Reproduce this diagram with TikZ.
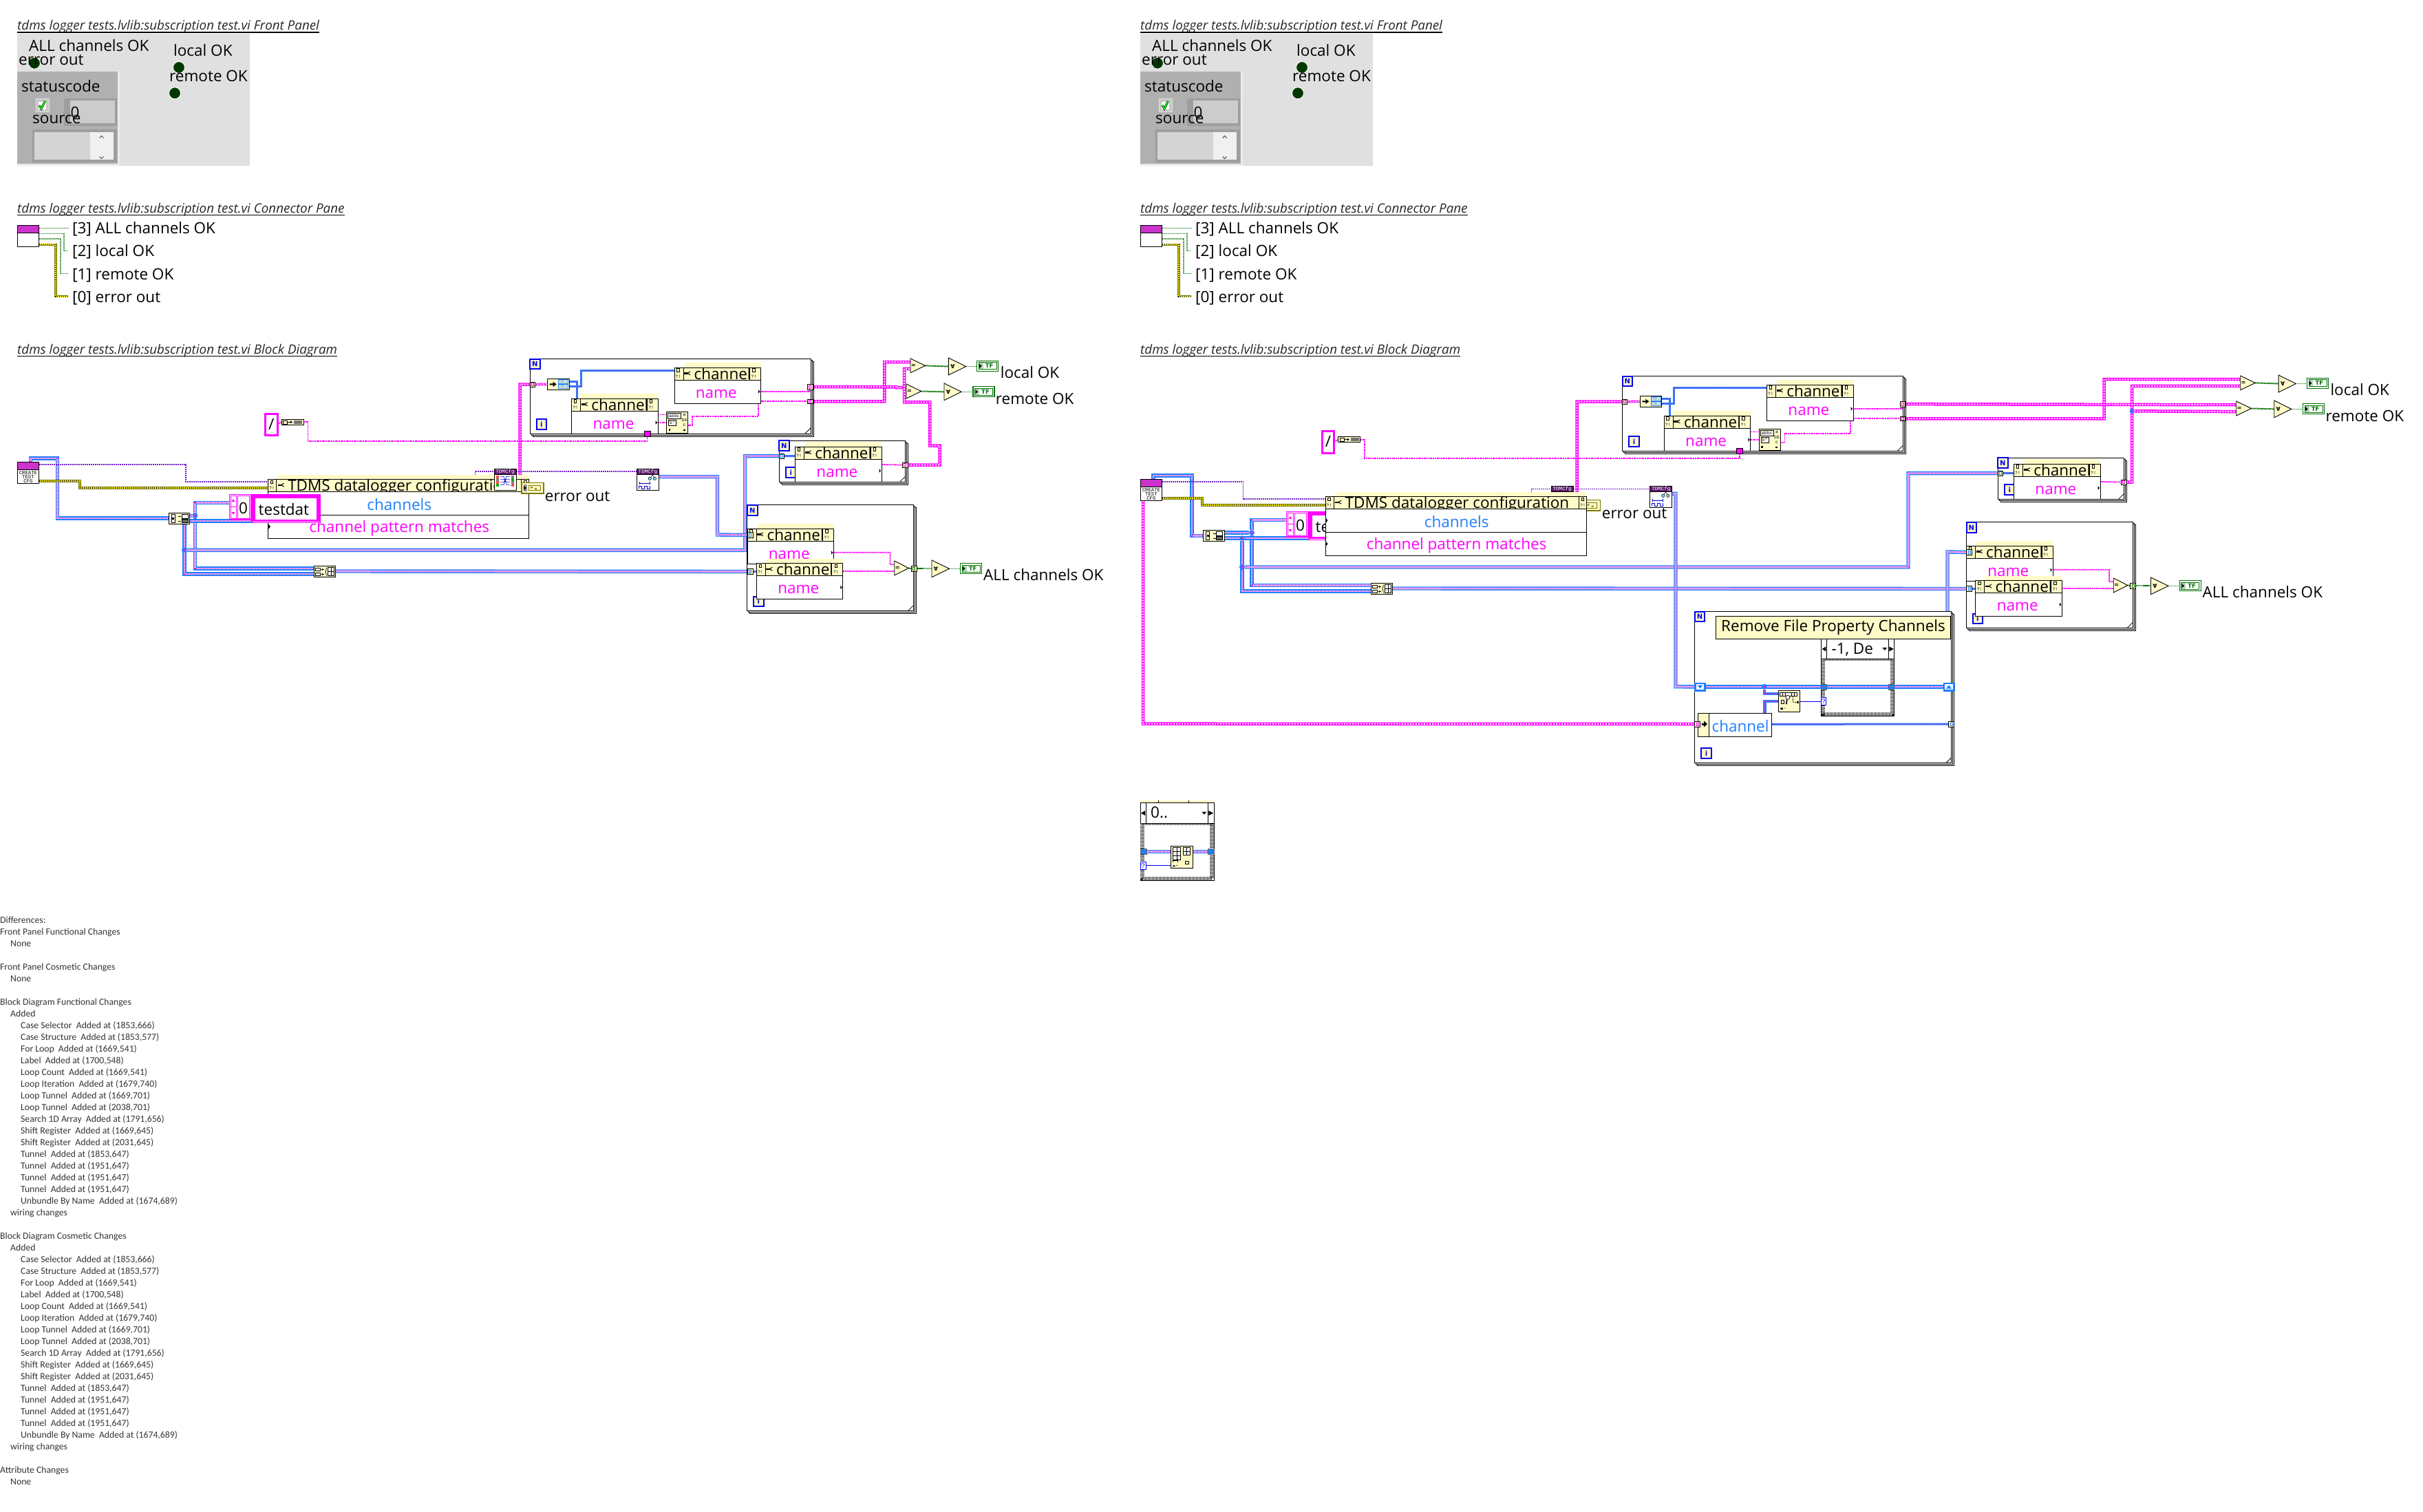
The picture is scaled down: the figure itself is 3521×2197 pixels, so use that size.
\documentclass[tikz,border=0pt]{standalone}
\usepackage{fontspec}
\setmainfont{Open Sans}
\newfontfamily\lvcarl{Carlito}
\newfontfamily\lvmono{Liberation Mono}
\newfontfamily\lvdv{DejaVu Sans}
\pgfdeclarelayer{owire}\pgfdeclarelayer{loopbg}\pgfdeclarelayer{iwire}
\pgfsetlayers{owire,loopbg,iwire,main}
\definecolor{lvblue}{HTML}{1E7FFF}
\definecolor{lvmag}{HTML}{FF00FF}
\definecolor{lvpink}{HTML}{D030E0}
\definecolor{lvcon}{HTML}{CC33CC}
\definecolor{lvpale}{HTML}{FFFBC8}
\definecolor{lvdpurp}{HTML}{5C1A6B}
\definecolor{lvpurp}{HTML}{7020C8}
\definecolor{lvolive}{HTML}{7A7A00}
\definecolor{lvgrn}{HTML}{007000}
\definecolor{lvnavy}{HTML}{0000F0}
\newcounter{lvc}
\tikzset{
 x=1pt,y=-1pt,
 lbl/.style={font=\fontsize{22.5pt}{24pt}\selectfont,inner sep=0pt},
 lm/.style={lbl,anchor=mid west,yshift=-4.5pt},
 ttl/.style={font=\itshape\fontsize{18.8pt}{20pt}\selectfont,inner sep=0pt,anchor=base west,text=black!85},
 tiny/.style={font=\lvmono\fontsize{6.5pt}{6.5pt}\selectfont,inner sep=0pt},
 eq/.style={font=\lvdv\bfseries\fontsize{8pt}{8pt}\selectfont,inner sep=0pt},
 pg/.style={draw=black,fill=white,line width=1pt},
 hdr/.style={draw=black,fill=lvpale,line width=1pt},
 bodyb/.style={draw=black,fill=white,line width=1pt},
 iconb/.style={draw=black,fill=white,line width=.8pt},
 palebox/.style={draw=black,fill=lvpale,line width=.9pt},
 tunb/.style={draw=black,fill=lvpale,line width=.8pt},
 termb/.style={draw=lvnavy,line width=2pt,fill=lvpale,text=lvnavy,font=\lvdv\bfseries\fontsize{10pt}{10pt}\selectfont},
 tri/.style={draw=black,fill=lvpale,line width=.9pt},
 clsw/.style={draw=lvblue,line width=5.4pt,line join=miter,postaction={draw=white,line width=2.6pt},postaction={draw=lvpink,line width=2.6pt,dash pattern=on 1pt off 1pt}},
 clst/.style={draw=lvblue,line width=3pt,line join=miter,postaction={draw=lvpink,line width=1.2pt,dash pattern=on 1pt off 1pt}},
 strarr/.style={draw=lvmag,line width=4.5pt,line join=miter,postaction={draw=white,line width=1.8pt,dash pattern=on 2pt off 2pt}},
 strw/.style={draw=lvmag,line width=1.8pt,dash pattern=on 2pt off .7pt},
 purp/.style={draw=lvpurp,line width=1.6pt,dash pattern=on 2pt off 1pt},
 errw/.style={draw=lvolive,line width=4.2pt,line join=miter,postaction={draw=yellow,line width=2pt},postaction={draw=black!80,line width=2pt,dash pattern=on 1pt off 2pt}},
 grn/.style={draw=lvgrn,line width=1.1pt,dash pattern=on 1pt off 1pt},
 grnb/.style={draw=lvgrn,line width=2pt,dash pattern=on 1.5pt off .6pt},
 jn/.style={circle,draw=lvblue,fill=lvpink,line width=1.6pt,minimum size=6pt,inner sep=0pt},
 chk/.style={draw=white,line width=5.5pt,postaction={draw=black!85,dash pattern=on 1pt off 1pt}},
 led/.style={circle,draw=black!3,line width=1pt,fill=black!60!green!55!black,minimum size=17pt,inner sep=0pt},
}
\newcommand\lvbx[7]{\node[#1,anchor=north west,inner sep=0pt,outer sep=0pt,minimum width={(#5)-(#3)},minimum height={(#6)-(#4)}] (#2) at (#3,#4) {#7};}
\newcommand\lvtn[3][]{\stepcounter{lvc}\node[#1] (txt\arabic{lvc}) at (#2) {#3};}
\newcommand\lvterm[4]{\lvbx{termb}{#1}{#2}{#3}{#2+14.5}{#3+14.7}{#4}}
\newcommand\lvloop[5]{\begin{pgfonlayer}{loopbg}
 \draw[pg] (#2+4,#3+4) rectangle (#4+4,#5+4);
 \draw[pg] (#2+2,#3+2) rectangle (#4+2,#5+2);
 \lvbx{pg}{#1}{#2}{#3}{#4}{#5}{}
 \draw[line width=.8pt] (#4-8,#5) -- (#4,#5-8);
 \end{pgfonlayer}}
\newcommand\lvtun[6]{\lvbx{tunb}{#1}{#2}{#3}{#4}{#5}{}
 \draw[draw=#6,line width=.9pt] ([xshift=-1.5pt,yshift=-2pt]#1.center) rectangle ([xshift=1.5pt,yshift=2pt]#1.center);}
% property node head: name x y w lcol rcol text body-height
\newcommand\lvprop[8]{
 \fill[lvpale] (#2+14.5,#3-7.2) rectangle (#2+#4,#3);
 \lvbx{hdr}{#1h}{#2}{#3}{#2+#4}{#3+18}{}
 \lvtn[lm]{#2+28.5,#3+10}{#7}
 \lvbx{hdr}{#1l}{#2}{#3}{#2+#5}{#3+18}{}
 \lvbx{hdr}{#1r}{#2+#4-#6}{#3}{#2+#4}{#3+18}{}
 \lvbx{bodyb}{#1b}{#2}{#3+18}{#2+#4}{#3+18+#8}{}
 \draw[line width=.7pt] (#2+3.5,#3+1.5) rectangle (#2+7,#3+6);
 \draw[line width=.7pt] (#2+#4-#6+4,#3+1.5) rectangle (#2+#4-#6+7.5,#3+6);
 \lvtn[tiny]{#2+5.5,#3+13}{?!}
 \lvtn[tiny]{#2+#4-#6+6,#3+13}{?!}
 \fill (#2+14,#3+7) rectangle (#2+20,#3+9.5);
 \draw[line width=1pt] (#2+19,#3+8) -- (#2+23,#3+5.5) (#2+19,#3+8) -- (#2+23,#3+10.5);
}
\newcommand\lvchan[4]{\lvprop{#1}{#2}{#3}{125.5}{13}{16}{channel}{#4}
 \lvtn[lbl,text=lvmag]{#2+60.8,#3+38}{name}
 \fill (#2+122,#3+32) -- (#2+124.5,#3+34.7) -- (#2+122,#3+37.4) -- cycle;}
\newcommand\lvcmp[5]{\draw[tri] (#2,#3) -- (#4,{(#3+#5)/2}) -- (#2,#5) -- cycle;
 \coordinate (#1) at (#4,{(#3+#5)/2});
 \coordinate (#1u) at (#2,{#3+0.25*(#5-#3)});
 \coordinate (#1d) at (#2,{#3+0.72*(#5-#3)});
 \lvtn[eq]{#2+4.5,{(#3+#5)/2}}{=}}
\newcommand\lvand[5]{\draw[tri] (#2,#3) -- (#4,{(#3+#5)/2}) -- (#2,#5) -- cycle;
 \coordinate (#1) at (#4,{(#3+#5)/2});
 \coordinate (#1i) at (#2,{(#3+#5)/2});
 \lvtn[eq]{#2+6,{(#3+#5)/2}}{∀}}
\newcommand\lvtf[3]{\lvbx{draw=lvgrn,fill=white,line width=1.2pt}{#1}{#2}{#3}{#2+31}{#3+15}{}
 \fill[green!45!black!30] (#2+2.5,#3+2.5) rectangle (#2+9,#3+12.5);
 \draw[lvgrn,line width=.7pt] (#2+2.5,#3+2.5) rectangle (#2+28.5,#3+12.5);
 \fill (#2+3.5,#3+4.5) -- (#2+7,#3+7.5) -- (#2+3.5,#3+10.5) -- cycle;
 \lvtn[text=lvgrn,font=\lvdv\bfseries\fontsize{8.5pt}{8.5pt}\selectfont,inner sep=0pt]{#2+18,#3+7.5}{TF}}
\newcommand\lvcase[9]{\begin{pgfonlayer}{loopbg}
 \lvbx{pg}{#1f}{#2}{#3}{#4}{#6}{}
 \draw[chk] (#2+3,#5) rectangle (#4-3,#6-3);
 \end{pgfonlayer}
 \lvbx{bodyb}{#1h}{#2}{#3}{#4}{#5}{}
 \draw[line width=.8pt] (#7,#3) -- (#7,#5) (#8,#3) -- (#8,#5);
 \lvtn[lm]{#7+7,{(#3+#5)/2}}{#9}
 \fill (#2+1,{(#3+#5)/2}) -- (#7-1,{(#3+#5)/2-3.5}) -- (#7-1,{(#3+#5)/2+3.5}) -- cycle;
 \fill (#4-1,{(#3+#5)/2}) -- (#8+1,{(#3+#5)/2-3.5}) -- (#8+1,{(#3+#5)/2+3.5}) -- cycle;
 \fill (#8-9,{(#3+#5)/2-2}) -- (#8-2,{(#3+#5)/2-2}) -- (#8-5.5,{(#3+#5)/2+2}) -- cycle;}
% repeated icons --------------------------------------------
\newcommand\lvcreate[3]{\lvbx{iconb}{#1}{#2}{#3}{#2+31.8}{#3+31.4}{}
 \lvbx{fill=lvcon,draw=black,line width=.8pt}{#1t}{#2}{#3}{#2+31.8}{#3+11}{}
 \lvtn[font=\lvmono\fontsize{7.3pt}{6pt}\selectfont,inner sep=0pt,align=center]{#2+15.9,#3+21.4}{CREATE\\TEST\\CFG}}
\newcommand\lvbar[3]{\lvbx{iconb}{#1}{#2}{#3}{#2+32}{#3+31.4}{}
 \lvbx{fill=lvdpurp,draw=black,line width=.5pt,text=white,font=\lvmono\fontsize{7.6pt}{7pt}\selectfont}{#1t}{#2}{#3}{#2+32}{#3+8}{TDMCfg}}
\newcommand\lvcfg[3]{\lvbar{#1}{#2}{#3}
 \begin{scope}[shift={(#2,#3)}]
 \foreach \yy/\cc in {10/red!70,14/gray,18/red!70,22/green!70!black}{\fill[\cc] (3,\yy) rectangle (7,\yy+3.4);}
 \foreach \yy/\cc in {10/gray,14/green!70!black,18/gray,22/red!70}{\fill[\cc] (25,\yy) rectangle (29,\yy+3.4);}
 \draw[blue!80!black,line width=.6pt] (9,11)--(14,11)--(18,23)--(23,23) (9,15)--(14,15)--(18,19)--(23,19) (9,19)--(14,19)--(18,15)--(23,15) (9,23)--(14,23)--(18,11)--(23,11);
 \end{scope}}
\newcommand\lvclose[3]{\lvbar{#1}{#2}{#3}
 \begin{scope}[shift={(#2,#3)}]
 \draw[blue!80!black,line width=.7pt] (3,29)--(3,25)--(7,25)--(7,29)--(11,29)--(11,25)--(15,25)--(15,29)--(19,29)--(19,25);
 \draw[blue!80!black,line width=.7pt] (4,21)--(19,21) (4,19)--(4,23) (19,19)--(19,23);
 \draw[black,fill=cyan!50,line width=.5pt] (19,14) circle (2.2pt) (26,14) circle (2.2pt);
 \draw[black,line width=.5pt] (20,12)--(23,9) (25,12)--(23,9);
 \end{scope}}
\newcommand\lverrind[3]{\lvbx{draw=lvolive,fill=lvpale,line width=1.6pt}{#1}{#2}{#3}{#2+31.7}{#3+15.4}{}
 \fill[black!40] (#2+2.5,#3+2.5) rectangle (#2+8,#3+12.9);
 \fill (#2+3,#3+4.5) -- (#2+7,#3+7.7) -- (#2+3,#3+10.9) -- cycle;
 \draw[lvolive,line width=.9pt] (#2+10,#3+4) rectangle (#2+27,#3+11.5);
 \fill[lvolive] (#2+13,#3+6) rectangle +(3,2) (#2+19,#3+8) rectangle +(3,2);}
\newcommand\lvindex[3]{\lvbx{palebox}{#1}{#2}{#3}{#2+30.6}{#3+16.4}{}
 \begin{scope}[shift={(#2,#3)}]
 \draw[fill=white,line width=.7pt] (4,2.5) rectangle (9,14);
 \fill (5,6.5) rectangle (8,10);
 \draw[line width=.7pt] (14,5)--(18,5) (14,12)--(18,12);
 \draw[fill=white,line width=.7pt] (19,2.5) rectangle (28,8);
 \draw[fill=black!60,line width=.7pt] (19,9.5) rectangle (28,14.5);
 \end{scope}}
\newcommand\lvbuild[3]{\lvbx{palebox}{#1}{#2}{#3}{#2+31}{#3+16.4}{}
 \begin{scope}[shift={(#2,#3)}]
 \draw[fill=white,line width=.6pt] (2,2.5) rectangle (9,7) (2,9.5) rectangle (9,14);
 \draw[line width=.6pt] (10,5)--(14,5) (10,12)--(14,12) (12,3.5)--(12,6.5) (12,10.5)--(12,13.5);
 \draw[fill=white,line width=.7pt] (20,2.5) rectangle (29,14);
 \draw[line width=.7pt] (24.5,2.5)--(24.5,14) (20,8)--(29,8);
 \draw[line width=.7pt] (18,2.5)--(16.5,8)--(18,14);
 \end{scope}}
\newcommand\lvconv[3]{\lvbx{palebox}{#1}{#2}{#3}{#2+32}{#3+8}{}
 \begin{scope}[shift={(#2,#3)}]
 \draw[line width=.6pt] (2,1.5) rectangle (8,6.5);
 \draw[line width=.7pt] (9,4)--(15,4);
 \fill (13,2)--(16,4)--(13,6)--cycle;
 \fill[black!55] (18,1.5) rectangle (30,6.5);
 \end{scope}}
\newcommand\lvobj[3]{\lvbx{palebox}{#1}{#2}{#3}{#2+31.3}{#3+16}{}
 \begin{scope}[shift={(#2,#3)}]
 \fill (3,7)--(8,7)--(8,4.5)--(13,8)--(8,11.5)--(8,9)--(3,9)--cycle;
 \draw[lvblue,line width=.7pt] (16,1.5) rectangle (30,7.5) (16,8.5) rectangle (30,14.5);
 \end{scope}
 \lvtn[tiny,text=lvblue]{#2+23,#3+4.5}{OBJ}
 \lvtn[tiny,text=lvblue]{#2+23,#3+11.5}{OBJ}}
\newcommand\lvsr[3]{\lvbx{palebox}{#1}{#2}{#3}{#2+31}{#3+31}{}
 \begin{scope}[shift={(#2,#3)}]
 \draw[fill=white,line width=.6pt] (2,2) rectangle (21,9.5) (3,12) rectangle (14,20);
 \fill (3,25) rectangle (5.5,27.5);
 \fill (24,25.5) rectangle (27,28);
 \end{scope}
 \lvtn[tiny]{#2+11.5,#3+5.8}{abbc}
 \lvtn[tiny]{#2+8.5,#3+16}{b*}
 \lvtn[tiny]{#2+26,#3+4.5}{a}
 \lvtn[tiny]{#2+26,#3+12}{bb}
 \lvtn[tiny]{#2+26,#3+19.5}{c}}
\newcommand\lvarr[3]{\begin{scope}[shift={(#2,#3)}]
 \lvbx{draw=lvmag,fill=white,line width=1.2pt}{#1a}{333.7}{718.7}{364.5}{755}{}
 \draw[lvmag,line width=.9pt] (335.5,720.5) rectangle (343,753) (345,720.5) rectangle (362.5,753);
 \fill[lvmag] (339,725)--(341.5,729)--(336.5,729)--cycle (339,748)--(341.5,744)--(336.5,744)--cycle;
 \draw[lvmag,line width=.7pt] (335.5,736)--(343,736);
 \lvtn[lbl]{353.5,738}{0}
 \lvbx{draw=lvmag,fill=white,line width=1.2pt}{#1}{366}{719}{465}{759.3}{}
 \lvbx{draw=lvmag,fill=white,line width=3.2pt}{#1i}{369}{722}{462}{756.3}{}
 \lvtn[lm]{375.5,741}{testdat}
 \end{scope}}
\newcommand\lvtdms[3]{\lvprop{#1}{#2}{#3}{379}{12}{11}{TDMS datalogger configuration}{67.6}
 \draw[line width=1pt] (#2,#3+51.6) -- (#2+379,#3+51.6);
 \lvtn[lbl,text=lvblue]{#2+190.7,#3+36.6}{channels}
 \lvtn[lbl,text=lvmag]{#2+190.7,#3+71.3}{channel pattern matches}
 \fill (#2+.5,#3+31) -- (#2+3.5,#3+34.5) -- (#2+.5,#3+38) -- cycle;
 \fill (#2+.5,#3+65) -- (#2+3.5,#3+68.5) -- (#2+.5,#3+72) -- cycle;}
% loops ------------------------------------------------------
\newcommand\lvloopone[3]{\begin{scope}[shift={(#2,#3)}]
 \lvloop{#1L}{770}{521.7}{1178}{630}
 \lvterm{#1N}{770}{521.7}{N}
 \lvterm{#1I}{779.6}{609}{i}
 \lvobj{#1Ob}{795.7}{550.3}
 \lvchan{#1Ca}{830.7}{579.3}{32.7}
 \lvchan{#1Cb}{980}{534.3}{34}
 \lvsr{#1Sr}{968.5}{598.3}
 \lvtun{#1Ti}{770}{555}{777}{562.3}{lvmag}
 \lvtun{#1Tu}{1173.4}{558.3}{1181}{566}{lvmag}
 \lvtun{#1Tl}{1173.4}{580}{1181}{586.7}{lvmag}
 \lvbx{fill=lvmag,draw=black,line width=.5pt}{#1Sq}{936}{626.7}{945}{634.3}{}
 \begin{pgfonlayer}{iwire}
 \draw[strarr,line width=3.5pt] (#1Ti) -- (#1Ob.west |- 0,558.3);
 \draw[clst] (#1Ob.east |- 0,554.3) -- (838.7,554.3) -- (838.7,579.3);
 \draw[clst] (#1Ob.east |- 0,561.8) -- (844.5,561.8) -- (844.5,538.3) -- (#1Cbh.west |- 0,538.3);
 \draw[strw] (#1Cab.east |- 0,602.5) -- (#1Sr.west |- 0,602.5);
 \draw[strw] (#1Cab.east |- 0,614) -- (#1Sr.west |- 0,614);
 \draw[strw] (#1Sr.east |- 0,618.3) -- (1005.8,618.3) -- (1005.8,605) -- (1101.7,605) -- (1101.7,586.7);
 \draw[strw] (#1Cbb.east |- 0,569) -- (1176,569) -- (#1Tu.south);
 \draw[strw] (#1Cbb.east |- 0,582.7) -- (#1Tl.west |- 0,582.7);
 \end{pgfonlayer}
 \end{scope}}
\newcommand\lvlooptwo[3]{\begin{scope}[shift={(#2,#3)}]
 \lvloop{#1L}{1132}{640.3}{1315.8}{700}
 \lvterm{#1N}{1132}{640.3}{N}
 \lvterm{#1I}{1142}{679.3}{i}
 \lvchan{#1C}{1155.6}{649.3}{32.7}
 \lvtun{#1Ti}{1132}{659}{1139.5}{666.3}{lvblue}
 \lvtun{#1To}{1311.8}{672}{1319}{679.3}{lvmag}
 \begin{pgfonlayer}{iwire}
 \draw[clst] (#1Ti) -- (#1Ch.west |- 0,662.6);
 \draw[strw] (#1Cb.east |- 0,675) -- (#1To);
 \end{pgfonlayer}
 \end{scope}}
\newcommand\lvloopthree[3]{\begin{scope}[shift={(#2,#3)}]
 \lvloop{#1L}{1085.6}{733.3}{1327.8}{887.3}
 \lvterm{#1N}{1086}{734}{N}
 \lvterm{#1I}{1095}{866.7}{i}
 \lvchan{#1Cc}{1086}{768.3}{33}
 \lvchan{#1Cd}{1099.4}{818.7}{33.6}
 \lvtun{#1Tc}{1086}{773.3}{1094}{781.7}{lvblue}
 \lvtun{#1Td}{1086}{826.7}{1094}{834.3}{lvblue}
 \lvcmp{#1Eq}{1299.7}{815}{1320.4}{836}
 \lvtun{#1To}{1324}{822.7}{1332}{830}{lvgrn}
 \lvand{#1An}{1354}{814}{1379.5}{838.7}
 \lvtf{#1Ind}{1395.6}{818.7}
 \node[lm] (#1Lb) at (1429,836.7) {ALL channels OK};
 \begin{pgfonlayer}{iwire}
 \draw[clst] (#1Td) -- (#1Cdh.west |- 0,830.5);
 \draw[strw] (#1Ccb.east |- 0,802.7) -- (1293.4,802.7) -- (1293.4,820.3) -- (#1Equ);
 \draw[strw] (#1Cdh.east |- 0,830) -- (#1Eqd);
 \draw[grnb] (#1Eq) -- (#1To);
 \draw[grnb] (#1To) -- (#1Ani);
 \draw[grn] (#1An) -- (#1Ind.west |- #1An);
 \end{pgfonlayer}
 \end{scope}}
\newcommand\lvoutputs[3]{\begin{scope}[shift={(#2,#3)}]
 \lvcmp{#1c1}{1323}{521}{1344.5}{541.7}
 \lvcmp{#1c2}{1317}{558}{1338.7}{579}
 \lvand{#1a1}{1378.4}{520}{1403.6}{545}
 \lvand{#1a2}{1372}{557}{1397}{581.7}
 \lvtf{#1i1}{1419.7}{524.3}
 \lvtf{#1i2}{1414}{561.7}
 \node[lm] (#1l1) at (1453.6,542.7) {local OK};
 \node[lm] (#1l2) at (1446.7,580) {remote OK};
 \begin{pgfonlayer}{iwire}
 \draw[grnb] (#1c1) -- (#1a1i);
 \draw[grnb] (#1c2) -- (#1a2i);
 \draw[grn] (#1a1) -- (#1i1.west |- #1a1);
 \draw[grn] (#1a2) -- (#1i2.west |- #1a2);
 \end{pgfonlayer}
 \end{scope}}
% panels -----------------------------------------------------
\newcommand\lvpanels[2]{\begin{scope}[shift={(#2,0)}]
 \node[ttl] (#1t1) at (25,43.5) {tdms logger tests.lvlib:subscription test.vi Front Panel};
 \draw[line width=1.4pt] (#1t1.west |- 0,47) -- (#1t1.east |- 0,47);
 \lvbx{fill=black!12}{#1bg}{25}{49}{363}{240.7}{}
 \lvbx{fill=black!8}{#1clh}{25}{103.7}{173.6}{240.7}{}
 \lvbx{fill=black!31}{#1cl}{25}{103.7}{171}{237.5}{}
 \lvbx{fill=black!38}{#1nmo}{93}{143}{170}{183}{}
 \lvbx{fill=black!20}{#1nmi}{102}{146}{167}{179}{}
 \lvbx{fill=black!38}{#1sto}{47}{188}{170}{236}{}
 \lvbx{fill=black!17}{#1sti}{50}{191.7}{131}{232}{}
 \lvbx{fill=black!6}{#1stb}{131}{191.7}{165}{232}{}
 \draw[black!55,line width=1.4pt] (144.5,200.5) -- (147.5,197.5) -- (150.5,200.5);
 \draw[black!55,line width=1.4pt] (144.5,227.5) -- (147.5,230.5) -- (150.5,227.5);
 \lvbx{fill=black!22,draw=black!12,line width=1pt}{#1chk}{52}{144}{71}{162.7}{}
 \fill[white] (56,148) rectangle (67,159);
 \draw[black,line width=2.8pt] (57,153) -- (60,158) -- (65.5,147);
 \draw[green,line width=1.6pt] (57,153) -- (60,158) -- (65.5,147);
 \node[led] (#1ld1) at (50,91.7) {};
 \node[led] (#1ld2) at (260,98) {};
 \node[led] (#1ld3) at (254,135.3) {};
 \node[lm] (#1p1) at (42,67.7) {ALL channels OK};
 \node[lm] (#1p2) at (27,87.7) {error out};
 \node[lm] (#1p3) at (252,74) {local OK};
 \node[lm] (#1p4) at (246,111.7) {remote OK};
 \node[lm] (#1p5) at (31,126.7) {statuscode};
 \node[lbl] (#1p6) at (109,163) {0};
 \node[lm] (#1p7) at (47,172) {source};
 \node[ttl] (#1t2) at (25,309.5) {tdms logger tests.lvlib:subscription test.vi Connector Pane};
 \draw[line width=1.4pt] (#1t2.west |- 0,312.7) -- (#1t2.east |- 0,312.7);
 \lvbx{draw=black,fill=white,line width=1pt}{#1cp}{25.5}{327.5}{56.5}{358.5}{}
 \lvbx{draw=black,fill=lvcon,line width=1pt}{#1cpt}{25.5}{327.5}{56.5}{338.7}{}
 \node[lm,inner xsep=6pt] (#1c3) at (99,332.7) {[3] ALL channels OK};
 \node[lm,inner xsep=6pt] (#1c2) at (99,365.7) {[2] local OK};
 \node[lm,inner xsep=6pt] (#1c1) at (99,399) {[1] remote OK};
 \node[lm,inner xsep=6pt] (#1c0) at (99,432.7) {[0] error out};
 \draw[grn] (#1cp.east |- 0,331.3) -- (#1c3.west |- 0,331.3);
 \draw[grn] (#1cp.east |- 0,339.3) -- (93,339.3) -- (93,364.7) -- (#1c2.west |- 0,364.7);
 \draw[grn] (#1cp.east |- 0,347) -- (88,347) -- (88,397.3) -- (#1c1.west |- 0,397.3);
 \draw[errw,line width=3.4pt,postaction={draw=yellow,line width=1.6pt},postaction={draw=black!80,line width=1.6pt,dash pattern=on 1pt off 2pt}] (#1cp.east |- 0,355.3) -- (81,355.3) -- (81,430.7) -- (#1c0.west |- 0,430.7);
 \node[ttl] (#1t3) at (25,514) {tdms logger tests.lvlib:subscription test.vi Block Diagram};
 \draw[line width=1.4pt] (#1t3.west |- 0,517.7) -- (#1t3.east |- 0,517.7);
 \end{scope}}
\newcommand\lvitems{\hspace*{30pt}Case Selector\ \ Added at (1853,666)\\\hspace*{30pt}Case Structure\ \ Added at (1853,577)\\\hspace*{30pt}For Loop\ \ Added at (1669,541)\\\hspace*{30pt}Label\ \ Added at (1700,548)\\\hspace*{30pt}Loop Count\ \ Added at (1669,541)\\\hspace*{30pt}Loop Iteration\ \ Added at (1679,740)\\\hspace*{30pt}Loop Tunnel\ \ Added at (1669,701)\\\hspace*{30pt}Loop Tunnel\ \ Added at (2038,701)\\\hspace*{30pt}Search 1D Array\ \ Added at (1791,656)\\\hspace*{30pt}Shift Register\ \ Added at (1669,645)\\\hspace*{30pt}Shift Register\ \ Added at (2031,645)\\\hspace*{30pt}Tunnel\ \ Added at (1853,647)\\\hspace*{30pt}Tunnel\ \ Added at (1951,647)\\\hspace*{30pt}Tunnel\ \ Added at (1951,647)\\\hspace*{30pt}Tunnel\ \ Added at (1951,647)\\\hspace*{30pt}Unbundle By Name\ \ Added at (1674,689)\\\hspace*{15pt}wiring changes\\}
\begin{document}
\begin{tikzpicture}
\useasboundingbox (0,0) rectangle (3521,2197);
\lvpanels{P}{0}
\lvpanels{Q}{1632}
% ===== left block diagram =====
\lvloopone{La}{0}{0}
\lvlooptwo{Lb}{0}{0}
\lvloopthree{Lc}{0}{0}
\lvoutputs{Lo}{0}{0}
\lvcreate{Lcr}{25}{671.3}
\lvindex{Lia}{245}{745.3}
\lvbuild{Lba}{456.6}{822.3}
\lvtdms{Ltd}{389.6}{696.7}
\lvarr{Lk}{0}{0}
\lvcfg{Lcf}{718}{681.3}
\lverrind{Lei}{758}{701.3}
\node[lm] (Leo) at (791.7,721) {error out};
\lvclose{Lcl}{925.4}{681.3}
\lvbx{draw=lvmag,fill=white,line width=3pt}{Lsl}{385}{601}{403.3}{632.8}{}
\lvtn[lbl]{394.2,616.5}{/}
\lvconv{Lss}{409}{609.3}
\node[jn] (Lj1) at (283.5,749.3) {};
\node[jn] (Lj2) at (267.8,799.3) {};
\begin{pgfonlayer}{owire}
\draw[clsw] (44.5,671.3) -- (44.5,666) -- (83.7,666) -- (83.7,753) -- (Lia.west |- 0,753);
\draw[purp] (Lcr.east |- 0,674.7) -- (270,674.7) -- (270,700) -- (Ltdh.west |- 0,700);
\draw[errw] (Lcr.east |- 0,699.3) -- (115.6,699.3) -- (115.6,709.3) -- (Ltdh.west |- 0,709.3);
\draw[clsw] (Lia.east |- 0,749.3) -- (Lj1) -- (283.5,730.7) -- (Lka.west |- 0,730.7);
\draw[clsw] (Lj1) -- (283.5,826) -- (Lba.west |- 0,826);
\draw[clsw] (Lia.east |- 0,757) -- (Lk.west |- 0,757);
\draw[clsw] (267.8,761.7) -- (267.8,834) -- (Lba.west |- 0,834);
\draw[clsw] (Lj2) -- (1082.7,799.3) -- (1082.7,662.6) -- (LbTi);
\draw[clsw] (Lba.east |- 0,830) -- (LcTd);
\draw[clsw] (Lcl.east |- 0,692.7) -- (1042.5,692.7) -- (1042.5,777) -- (LcTc);
\draw[strarr] (755.7,696.7) -- (755.7,558.6) -- (LaTi);
\draw[strw] (Lsl.east) -- (Lss.west);
\draw[strw] (Lss.east) -- (447.4,613.3) -- (447.4,640.7) -- (940.5,640.7) -- (LaSq.south);
\draw[purp] (690.4,696) -- (690.4,685) -- (Lcf.west |- 0,685);
\draw[purp] (Lcf.east |- 0,685) -- (Lcl.west |- 0,685);
\draw[strarr] (LaTl.east) -- (1285.3,583.3) -- (1285.3,526) -- (Loc1u);
\draw[strarr] (LaTu.east) -- (1302.6,562.3) -- (1302.6,563.2) -- (Loc2u);
\draw[strarr] (LbTo.east) -- (1365.7,675.6) -- (1365.7,647.7) -- (1351.4,647.7) -- (1351.4,584.3) -- (1314,584.3) -- (1314,535.9) -- (Loc1d);
\draw[strarr] (1314,573.1) -- (Loc2d);
\end{pgfonlayer}
% ===== right block diagram =====
\lvloopone{Ra}{1587.6}{25}
\lvlooptwo{Rb}{1771}{25}
\lvloopthree{Rc}{1771.5}{25}
\lvoutputs{Ro}{1932.7}{25}
\lvcreate{Rcr}{1657}{696.3}
\lvindex{Ria}{1748.5}{770.3}
\lvbuild{Rba}{1992.5}{847.3}
\lvarr{Rk}{1536}{25}
\lverrind{Rei}{2293.7}{726.5}
\lvcfg{Rcf}{2254}{706.3}
\lvtdms{Rtd}{1926}{721.7}
\node[lm] (Reo) at (2327.7,746) {error out};
\lvclose{Rcl}{2397.7}{706.3}
\lvbx{draw=lvmag,fill=white,line width=3pt}{Rsl}{1921}{626}{1938.5}{658.2}{}
\lvtn[lbl]{1930,641.5}{/}
\lvconv{Rss}{1944.8}{634.7}
\node[jn] (Rj1) at (1819,774) {};
\node[jn] (Rj2) at (1804.8,782) {};
\node[jn] (Rj3) at (1804.8,824) {};
\node[jn,minimum size=5pt] (Rj4) at (3098,597.3) {};
% ===== Remove File Property Channels loop =====
\lvloop{RemL}{2462.7}{888.7}{2835.7}{1108.7}
\lvcase{RemC}{2646.7}{928.7}{2752.7}{957.3}{1040.7}{2654.3}{2744.3}{-1, De}
\lvterm{RemN}{2462.7}{888.7}{N}
\lvbx{draw=black,fill=lvpale,line width=1pt,lbl}{RemLb}{2493.3}{895.3}{2834.7}{928.7}{\raisebox{-4pt}{Remove File Property Channels}}
\lvbx{draw=lvblue,fill=white,line width=2.4pt}{RemSl}{2463.5}{992.7}{2477.3}{1003.3}{}
\fill[lvblue] (2466.5,995.5) -- (2474.5,995.5) -- (2470.5,1000.5) -- cycle;
\lvbx{draw=lvblue,fill=white,line width=2.4pt}{RemSr}{2824.7}{992.7}{2839.3}{1003.3}{}
\fill[lvblue] (2828,1000.5) -- (2836,1000.5) -- (2832,995.5) -- cycle;
\lvbx{fill=lvblue,draw=black!60,line width=.6pt}{RemCl}{2646.7}{994.3}{2654.7}{1002.3}{}
\lvbx{fill=lvblue,draw=black!60,line width=.6pt}{RemCr}{2744.3}{994.3}{2752.3}{1002.3}{}
\lvbx{draw=lvnavy,fill=white,line width=.9pt,text=lvnavy,font=\lvmono\fontsize{10pt}{10pt}\selectfont}{RemQ}{2646.7}{1013.3}{2653.7}{1024.7}{?}
\lvbx{palebox}{RemSn}{2584.3}{1003.3}{2615.7}{1034.3}{}
\begin{scope}[shift={(2584.3,1003.3)}]
 \draw[fill=white,line width=.6pt] (2,3) rectangle (27,7.5);
 \draw[line width=.5pt] (6,3)--(6,7.5) (10,3)--(10,7.5) (19,3)--(19,7.5) (23,3)--(23,7.5);
 \draw[fill=white,line width=.7pt] (13.5,10) circle (3pt);
 \draw[line width=1.6pt] (12.5,13)--(11.5,20);
 \draw[fill=white,line width=.6pt] (3.5,14) rectangle (8,19);
 \fill (3,25) rectangle (6.5,27.5) (9,25) rectangle +(1,1);
 \draw[line width=.7pt,densely dotted] (21,9)--(21,17)--(26,17);
 \fill (27,15.5) rectangle (30,18.5);
\end{scope}
\lvbx{draw=black,fill=white,line width=1pt}{RemCh}{2467.3}{1036}{2574.7}{1070.3}{}
\lvbx{draw=black,fill=lvpale,line width=1pt}{RemChp}{2467.3}{1036}{2483.3}{1070.3}{}
\fill (2473,1050.5) rectangle (2477,1053.5);
\fill (2476,1047.5) -- (2481,1052) -- (2476,1056.5) -- cycle;
\lvtn[lbl,text=lvblue]{2529,1055}{channel}
\lvbx{tunb}{RemTi}{2462.7}{1048}{2470.7}{1056}{}
\draw[lvmag,line width=.9pt] (2465,1050) rectangle (2468.4,1054);
\lvtun{RemTo}{2831.7}{1048.3}{2839.3}{1056}{lvblue}
\lvterm{RemI}{2472.3}{1087.3}{i}
\node[jn] (RemJ) at (2564,997.7) {};
\begin{pgfonlayer}{iwire}
\draw[clsw] (RemSl) -- (RemSr);
\draw[clst,line width=4.4pt,postaction={draw=lvpink,line width=2.2pt,dash pattern=on 1pt off 1pt}] (RemJ) -- (2564,1007.7) -- (RemSn.west |- 0,1007.7);
\draw[clst,line width=4.4pt,postaction={draw=lvpink,line width=2.2pt,dash pattern=on 1pt off 1pt}] (2564.3,1036) -- (2564.3,1019) -- (RemSn.west |- 0,1019);
\draw[lvnavy,line width=1pt] (RemSn.east |- 0,1019.3) -- (RemQ.west |- 0,1019.3);
\draw[clst] (RemCh.east |- 0,1052.3) -- (RemTo);
\end{pgfonlayer}
\begin{pgfonlayer}{owire}
\draw[clsw] (1676,696.3) -- (1676,691) -- (1732,691) -- (1732,778.3) -- (Ria.west |- 0,778.3);
\draw[purp] (Rcr.east |- 0,700) -- (1806.5,700) -- (1806.5,725) -- (Rtdh.west |- 0,725);
\draw[errw] (Rcr.east |- 0,724.3) -- (1747.3,724.3) -- (1747.3,734.3) -- (Rtdh.west |- 0,734.3);
\draw[clsw] (Ria.east |- 0,774) -- (Rj1) -- (1819,755.7) -- (Rka.west |- 0,755.7);
\draw[clsw] (Rj1) -- (1819,850.7) -- (Rba.west |- 0,850.7);
\draw[clsw] (Ria.east |- 0,782) -- (Rk.west |- 0,782);
\draw[clsw] (Rj2) -- (1804.8,859) -- (Rba.west |- 0,859);
\draw[clsw] (Rj3) -- (2773,824) -- (2773,687.6) -- (RbTi);
\draw[clsw] (Rba.east |- 0,855) -- (RcTd);
\draw[strarr] (1661,0 |- Rcr.south) -- (1661,1051.7) -- (RemTi);
\draw[clsw] (Rcl.east |- 0,717.3) -- (2435,717.3) -- (2435,997.7) -- (RemSl);
\draw[clsw] (2830,997.7) -- (2830,802) -- (RcTc);
\draw[strarr] (2291.5,721.7) -- (2291.5,583.6) -- (RaTi);
\draw[purp] (2225.5,721) -- (2225.5,710.3) -- (Rcf.west |- 0,710.3);
\draw[purp] (Rcf.east |- 0,710.3) -- (Rcl.west |- 0,710.3);
\draw[strw] (Rsl.east) -- (Rss.west);
\draw[strw] (Rss.east) -- (1982.7,638.7) -- (1982.7,665.7) -- (2528.1,665.7) -- (RaSq.south);
\draw[strarr] (RaTu.east) -- (Roc2u);
\draw[strarr] (RaTl.east) -- (3057.6,608.3) -- (3057.6,551.2) -- (Roc1u);
\draw[strarr] (RbTo.east) -- (3098,700.6) -- (3098,560.9) -- (Roc1d);
\draw[strarr] (Rj4) -- (Roc2d);
\end{pgfonlayer}
% ===== lone case structure =====
\fill[lvpale] (1657,1163) rectangle (1764,1166.7);
\draw[line width=.8pt] (1683.5,1163) -- (1683.5,1166.7) (1728,1166.7) -- (1727,1163);
\lvcase{BcC}{1657}{1166.7}{1764}{1196.3}{1279.7}{1665}{1755.4}{0..}
\lvbx{fill=lvblue,draw=black!60,line width=.6pt}{BcL}{1657}{1233.3}{1665.8}{1241.7}{}
\lvbx{fill=lvblue,draw=black!60,line width=.6pt}{BcR}{1755}{1233.3}{1764}{1241.7}{}
\lvbx{draw=lvnavy,fill=white,line width=.9pt,text=lvnavy,font=\lvmono\fontsize{10pt}{10pt}\selectfont}{BcQ}{1657}{1252}{1665}{1263.3}{?}
\lvbx{palebox}{BcN}{1701.4}{1229.3}{1733}{1261.7}{}
\begin{scope}[shift={(1701.4,1229.3)}]
 \draw[fill=white,line width=.6pt] (3,2) rectangle (14,20);
 \draw[line width=.5pt] (8.5,2)--(8.5,20) (3,8)--(14,8) (3,14)--(14,14);
 \draw[fill=white,line width=.6pt] (18,2) rectangle (28,13);
 \draw[line width=.5pt] (23,2)--(23,13) (18,7.5)--(28,7.5);
 \draw[line width=.7pt] (3,19)--(3,24) (3,21.5)--(10,21.5) (10,19)--(10,24);
 \draw[line width=.7pt] (21,22) rectangle (25.5,26.5);
 \fill (3,28) rectangle (6,30) (8,27.5) rectangle +(1.2,1.2);
\end{scope}
\begin{pgfonlayer}{iwire}
\draw[clsw] (BcL) -- (BcR);
\draw[lvnavy,line width=1pt] (BcQ.east |- 0,1257.3) -- (BcN.west |- 0,1257.3);
\end{pgfonlayer}
% ===== differences text =====
\node[anchor=north west,inner sep=0pt,align=left,text=black!80,font=\lvcarl\fontsize{13.7pt}{17pt}\selectfont] (diff) at (0,1332) {%
Differences:\\Front Panel Functional Changes\\\hspace*{15pt}None\\~\\Front Panel Cosmetic Changes\\\hspace*{15pt}None\\~\\Block Diagram Functional Changes\\\hspace*{15pt}Added\\\lvitems ~\\Block Diagram Cosmetic Changes\\\hspace*{15pt}Added\\\lvitems ~\\Attribute Changes\\\hspace*{15pt}None};
\end{tikzpicture}
\end{document}
